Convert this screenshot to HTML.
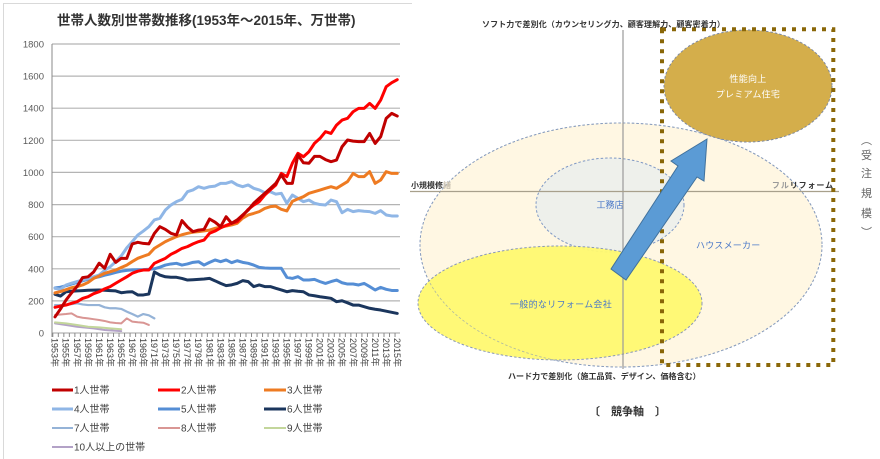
<!DOCTYPE html>
<html><head><meta charset="utf-8"><style>
html,body{margin:0;padding:0;background:#fff;}
svg{display:block;}
text{font-family:"Liberation Sans","Noto Sans CJK JP",sans-serif;}
.pl{fill:none;stroke-linejoin:round;stroke-linecap:round;vector-effect:non-scaling-stroke;}
</style></head><body>
<svg width="880" height="459" viewBox="0 0 880 459" xmlns="http://www.w3.org/2000/svg">
<rect width="880" height="459" fill="#fff"/>
<!-- left chart frame -->
<line x1="3.5" y1="3.5" x2="3.5" y2="459" stroke="#d9d9d9" stroke-width="1"/>
<line x1="3" y1="3.5" x2="412" y2="3.5" stroke="#d9d9d9" stroke-width="1"/>
<text x="57" y="25" font-size="13.5" font-weight="bold" fill="#333">世帯人数別世帯数推移(1953年～2015年、万世帯)</text>
<!-- grid -->
<g stroke="#b4b4b4" stroke-width="1.2">
<line x1="52" y1="44" x2="400" y2="44"/>
<line x1="52" y1="76.1" x2="400" y2="76.1"/>
<line x1="52" y1="108.2" x2="400" y2="108.2"/>
<line x1="52" y1="140.3" x2="400" y2="140.3"/>
<line x1="52" y1="172.4" x2="400" y2="172.4"/>
<line x1="52" y1="204.6" x2="400" y2="204.6"/>
<line x1="52" y1="236.7" x2="400" y2="236.7"/>
<line x1="52" y1="268.8" x2="400" y2="268.8"/>
<line x1="52" y1="300.9" x2="400" y2="300.9"/>
<line x1="52" y1="333" x2="400" y2="333"/>
</g>
<line x1="52" y1="44" x2="52" y2="337" stroke="#8a8a8a" stroke-width="1"/>
<line x1="52.3" y1="335" x2="400" y2="335" stroke="#8a8a8a" stroke-width="4" stroke-dasharray="1 4.52"/>
<g font-size="9.5" fill="#595959" text-anchor="end">
<text x="44" y="47.5">1800</text>
<text x="44" y="79.6">1600</text>
<text x="44" y="111.7">1400</text>
<text x="44" y="143.8">1200</text>
<text x="44" y="175.9">1000</text>
<text x="44" y="208.1">800</text>
<text x="44" y="240.2">600</text>
<text x="44" y="272.3">400</text>
<text x="44" y="304.4">200</text>
<text x="44" y="336.5">0</text>
</g>
<g font-size="9" fill="#404040">
<text transform="translate(51.7,338) rotate(90)">1953年</text>
<text transform="translate(62.74,338) rotate(90)">1955年</text>
<text transform="translate(73.78,338) rotate(90)">1957年</text>
<text transform="translate(84.82,338) rotate(90)">1959年</text>
<text transform="translate(95.86,338) rotate(90)">1961年</text>
<text transform="translate(106.9,338) rotate(90)">1963年</text>
<text transform="translate(117.94,338) rotate(90)">1965年</text>
<text transform="translate(128.98,338) rotate(90)">1967年</text>
<text transform="translate(140.02,338) rotate(90)">1969年</text>
<text transform="translate(151.06,338) rotate(90)">1971年</text>
<text transform="translate(162.1,338) rotate(90)">1973年</text>
<text transform="translate(173.14,338) rotate(90)">1975年</text>
<text transform="translate(184.18,338) rotate(90)">1977年</text>
<text transform="translate(195.22,338) rotate(90)">1979年</text>
<text transform="translate(206.26,338) rotate(90)">1981年</text>
<text transform="translate(217.3,338) rotate(90)">1983年</text>
<text transform="translate(228.34,338) rotate(90)">1985年</text>
<text transform="translate(239.38,338) rotate(90)">1987年</text>
<text transform="translate(250.42,338) rotate(90)">1989年</text>
<text transform="translate(261.46,338) rotate(90)">1991年</text>
<text transform="translate(272.5,338) rotate(90)">1993年</text>
<text transform="translate(283.54,338) rotate(90)">1995年</text>
<text transform="translate(294.58,338) rotate(90)">1997年</text>
<text transform="translate(305.62,338) rotate(90)">1999年</text>
<text transform="translate(316.66,338) rotate(90)">2001年</text>
<text transform="translate(327.7,338) rotate(90)">2003年</text>
<text transform="translate(338.74,338) rotate(90)">2005年</text>
<text transform="translate(349.78,338) rotate(90)">2007年</text>
<text transform="translate(360.82,338) rotate(90)">2009年</text>
<text transform="translate(371.86,338) rotate(90)">2011年</text>
<text transform="translate(382.9,338) rotate(90)">2013年</text>
<text transform="translate(393.94,338) rotate(90)">2015年</text>
</g>
<!-- series -->
<g transform="translate(55 333) scale(5.52 -0.16056)">
<polyline class="pl" stroke="#b3a2c7" stroke-width="2" points="0,60 2,50 4,39 7,29 9,19 12,12"/>
<polyline class="pl" stroke="#c3d69b" stroke-width="2" points="0,66 2,60 4,50 6,39 8,35 10,29 12,23"/>
<polyline class="pl" stroke="#d99694" stroke-width="2" points="0,112 1,115 2,118 3,122 4,102 5,95 6,91 7,86 8,81 9,75 10,66 11,62 12,60 13,91 14,71 15,67 16,64 17,50"/>
<polyline class="pl" stroke="#95b3d7" stroke-width="2.2" points="0,174 1,174 2,174 3,180 4,185 5,178 6,174 7,174 8,174 9,160 10,154 11,154 12,150 13,133 14,118 15,102 16,118 17,110 18,91"/>
<polyline class="pl" stroke="#1b365d" stroke-width="3" points="0,241 1,230 2,257 3,260 4,262 5,264 6,266 7,267 8,268 9,266 10,264 11,262 12,251 13,255 14,257 15,237 16,237 17,243 18,380 19,361 20,350 21,347 22,347 23,340 24,330 25,332 26,334 27,336 28,340 29,325 30,309 31,295 32,300 33,309 34,326 35,320 36,289 37,299 38,289 39,289 40,278 41,268 42,257 43,264 44,260 45,257 46,237 47,232 48,226 49,221 50,216 51,195 52,201 53,188 54,174 55,174 56,164 57,154 58,148 59,143 60,136 61,129 62,122"/>
<polyline class="pl" stroke="#558ed5" stroke-width="3" points="0,280 1,285 2,295 3,305 4,315 5,325 6,335 7,343 8,350 9,360 10,368 11,377 12,385 13,390 14,393 15,394 16,395 17,397 18,400 19,410 20,423 21,430 22,434 23,423 24,430 25,440 26,444 27,423 28,440 29,455 30,444 31,455 32,438 33,450 34,440 35,434 36,423 37,409 38,405 39,403 40,403 41,403 42,347 43,340 44,351 45,330 46,330 47,334 48,320 49,309 50,320 51,330 52,313 53,305 54,305 55,299 56,309 57,289 58,268 59,284 60,272 61,265 62,265"/>
<polyline class="pl" stroke="#8fb6e6" stroke-width="3" points="0,278 1,272 2,299 3,310 4,320 5,330 6,340 7,350 8,361 9,390 10,413 11,444 12,480 13,530 14,569 15,610 16,635 17,662 18,704 19,714 20,766 21,797 22,818 23,832 24,880 25,891 26,911 27,901 28,911 29,915 30,932 31,932 32,943 33,922 34,911 35,922 36,901 37,891 38,874 39,880 40,865 41,870 42,808 43,859 44,839 45,818 46,828 47,808 48,800 49,797 50,828 51,818 52,749 53,770 54,756 55,762 56,758 57,756 58,745 59,762 60,735 61,729 62,729"/>
<polyline class="pl" stroke="#ee7b22" stroke-width="3" points="0,250 1,258 2,270 3,282 4,289 5,299 6,315 7,340 8,355 9,372 10,382 11,392 12,408 13,423 14,445 15,465 16,478 17,490 18,527 19,548 20,569 21,585 22,600 23,612 24,621 25,628 26,631 27,636 28,641 29,652 30,660 31,666 32,673 33,683 34,715 35,735 36,745 37,756 38,776 39,787 40,790 41,770 42,760 43,820 44,835 45,849 46,870 47,880 48,890 49,901 50,911 51,901 52,922 53,943 54,994 55,974 56,974 57,1005 58,932 59,953 60,1005 61,994 62,994"/>
<polyline class="pl" stroke="#ff0000" stroke-width="3" points="0,160 1,168 2,174 3,185 4,195 5,215 6,226 7,245 8,257 9,275 10,289 11,310 12,330 13,350 14,372 15,385 16,392 17,392 18,434 19,450 20,465 21,490 22,507 23,527 24,538 25,555 26,569 27,579 28,621 29,635 30,655 31,670 32,683 33,693 34,730 35,770 36,797 37,818 38,859 39,891 40,922 41,994 42,974 43,1057 44,1119 45,1098 46,1129 47,1181 48,1212 49,1254 50,1243 51,1295 52,1326 53,1337 54,1378 55,1399 56,1399 57,1430 58,1399 59,1451 60,1534 61,1559 62,1578"/>
<polyline class="pl" stroke="#c00000" stroke-width="3" points="0,100 1,150 2,205 3,250 4,290 5,345 6,350 7,380 8,435 9,403 10,490 11,440 12,465 13,465 14,555 15,565 16,558 17,555 18,620 19,662 20,645 21,621 22,610 23,700 24,660 25,631 26,641 27,645 28,710 29,690 30,662 31,724 32,683 33,704 34,735 35,766 36,808 37,839 38,870 39,900 40,932 41,984 42,932 43,932 44,1109 45,1060 46,1057 47,1100 48,1100 49,1080 50,1067 51,1077 52,1160 53,1202 54,1195 55,1192 56,1192 57,1243 58,1181 59,1223 60,1337 61,1368 62,1351"/>
</g>
<!-- legend -->
<g stroke-linecap="butt">
<line x1="52" y1="390" x2="73" y2="390" stroke="#c00000" stroke-width="3"/>
<line x1="158" y1="390" x2="180" y2="390" stroke="#ff0000" stroke-width="3"/>
<line x1="264" y1="390" x2="286" y2="390" stroke="#ee7b22" stroke-width="3"/>
<line x1="52" y1="409" x2="73" y2="409" stroke="#8fb6e6" stroke-width="3"/>
<line x1="158" y1="409" x2="180" y2="409" stroke="#558ed5" stroke-width="3"/>
<line x1="264" y1="409" x2="286" y2="409" stroke="#1b365d" stroke-width="3"/>
<line x1="52" y1="428" x2="73" y2="428" stroke="#95b3d7" stroke-width="2"/>
<line x1="158" y1="428" x2="180" y2="428" stroke="#d99694" stroke-width="2"/>
<line x1="264" y1="428" x2="286" y2="428" stroke="#c3d69b" stroke-width="2"/>
<line x1="52" y1="447" x2="73" y2="447" stroke="#b3a2c7" stroke-width="2"/>
</g>
<g font-size="10" fill="#404040">
<text x="74" y="393.5">1人世帯</text>
<text x="181" y="393.5">2人世帯</text>
<text x="287" y="393.5">3人世帯</text>
<text x="74" y="412.5">4人世帯</text>
<text x="181" y="412.5">5人世帯</text>
<text x="287" y="412.5">6人世帯</text>
<text x="74" y="431.5">7人世帯</text>
<text x="181" y="431.5">8人世帯</text>
<text x="287" y="431.5">9人世帯</text>
<text x="74" y="450.5">10人以上の世帯</text>
</g>

<!-- right diagram -->
<ellipse cx="621" cy="245" rx="201" ry="122" fill="#fff7e3" stroke="#7f98c4" stroke-width="1" stroke-dasharray="2.5 2"/>
<ellipse cx="610" cy="205" rx="74" ry="47" fill="#eef0eb" stroke="#7f98c4" stroke-width="1" stroke-dasharray="2.5 2"/>
<ellipse cx="560" cy="303" rx="142" ry="57" fill="#fff970" fill-opacity="0.95" stroke="#8a98b8" stroke-width="1" stroke-dasharray="2.5 2"/>
<ellipse cx="621" cy="245" rx="201" ry="122" fill="none" stroke="#8fa0b8" stroke-width="0.8" stroke-dasharray="2.5 2" opacity="0.7"/>
<line x1="623" y1="30" x2="623" y2="369" stroke="#9a9a9a" stroke-width="1.2"/>
<line x1="410" y1="191.5" x2="839" y2="191.5" stroke="#a8a08c" stroke-width="1.2"/>
<ellipse cx="748" cy="86" rx="84" ry="56" fill="#d4ae4b" stroke="#7f8aa0" stroke-width="1" stroke-dasharray="2.5 2"/>
<rect x="662" y="29.3" width="171.3" height="335.7" fill="none" stroke="#8a6708" stroke-width="4" stroke-dasharray="4 6"/>
<polygon points="707,139 704,181 697,177 626,280 611,269 678,166 671,161" fill="#5b9bd5" stroke="#41719c" stroke-width="1"/>

<g font-size="8" font-weight="bold" fill="#333">
<text x="482" y="27" letter-spacing="0.1">ソフト力で差別化（カウンセリング力、顧客理解力、顧客密着力）</text>
<text x="411" y="188">小規模修<tspan fill="#c8c0b0">繕</tspan></text>
<text x="834" y="188" text-anchor="end" letter-spacing="0.9"><tspan fill="#9a9a9a">フル</tspan>リフォーム</text>
<text x="508" y="379" letter-spacing="0.05">ハード力で差別化（施工品質、デザイン、価格含む）</text>
</g>
<text x="589" y="415" font-size="11" font-weight="bold" fill="#333">〔　競争軸　〕</text>
<g font-size="11" fill="#666" text-anchor="middle">
<text x="866.5" y="144">︵</text>
<text x="866.5" y="159">受</text>
<text x="866.5" y="177">注</text>
<text x="866.5" y="197">規</text>
<text x="866.5" y="217">模</text>
<text x="866.5" y="236">︶</text>
</g>
<g font-size="9" fill="#fff" text-anchor="middle">
<text x="748" y="82" letter-spacing="0.3">性能向上</text>
<text x="748" y="97.5" letter-spacing="0.3">プレミアム住宅</text>
</g>
<g font-size="9" fill="#4a78c8">
<text x="610" y="208" text-anchor="middle">工務店</text>
<text x="696" y="248.5" letter-spacing="0.2">ハウスメーカー</text>
<text x="510" y="307.5" letter-spacing="0.3">一般的なリフォーム会社</text>
</g>
</svg>
</body></html>
